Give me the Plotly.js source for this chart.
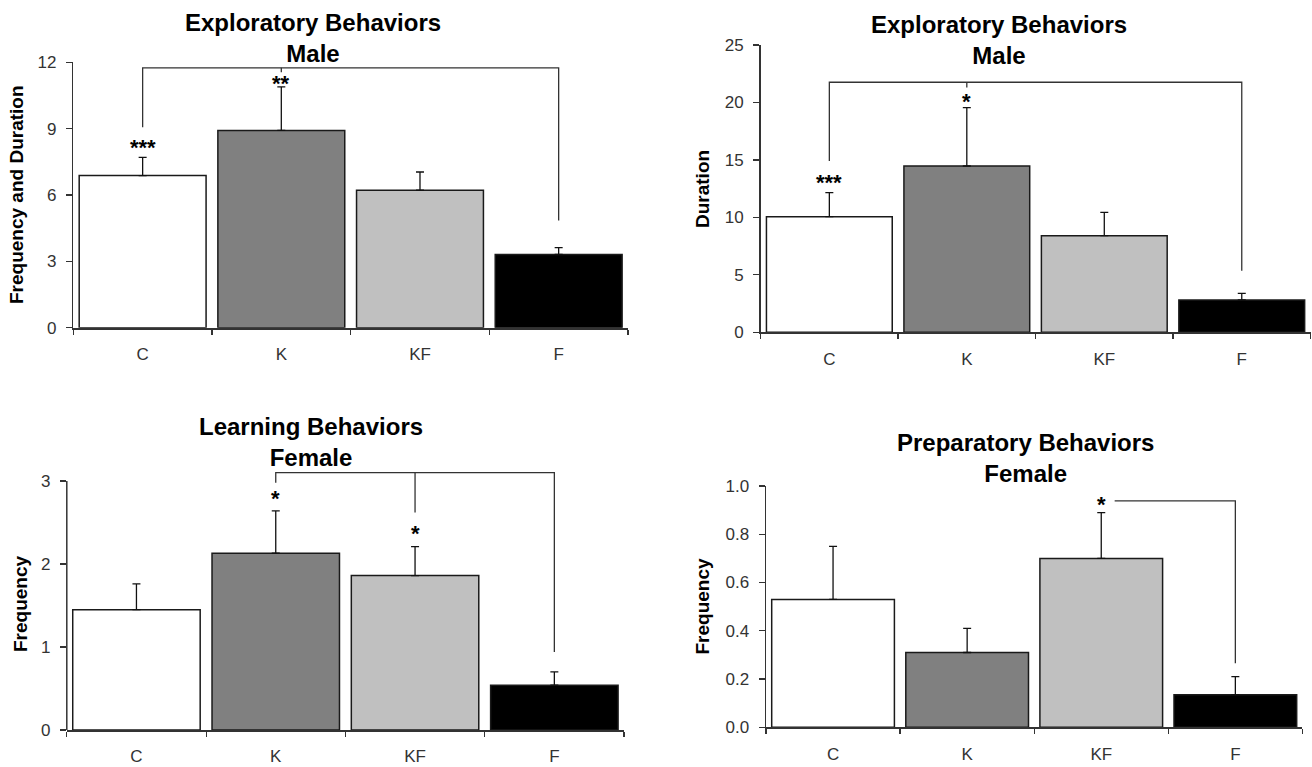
<!DOCTYPE html>
<html><head><meta charset="utf-8">
<script src="https://cdn.plot.ly/plotly-3.0.1.min.js"></script>
<style>html,body{margin:0;padding:0;background:#fff;} #chart{width:1312px;height:767px;}</style>
</head><body><div id="chart"></div>
<script>
// ---------- data ----------
const categories = ['C', 'K', 'KF', 'F'];
const barColors = ['#ffffff', '#808080', '#c0c0c0', '#000000'];

// Panel 1: Exploratory Behaviors, Male (frequency and duration)
const p1Title = 'Exploratory Behaviors<br>Male';
const p1YLabel = 'Frequency and Duration';
const p1Means = [6.88, 8.92, 6.22, 3.31];
const p1Sem = [0.82, 1.97, 0.82, 0.31];
const p1YTicks = [0, 3, 6, 9, 12];
const p1YTickText = ['0', '3', '6', '9', '12'];
const p1BracketX = [0, 0, 3, 3];
const p1BracketY = [9.06, 11.75, 11.75, 4.85];
const p1SubX = [1, 1];
const p1SubY = [11.75, 11.55];
const p1StarX = [0, 1];
const p1StarY = [8.35, 11.2];
const p1StarText = ['***', '**'];

// Panel 2: Exploratory Behaviors, Male (duration)
const p2Title = 'Exploratory Behaviors<br>Male';
const p2YLabel = 'Duration';
const p2Means = [10.06, 14.47, 8.41, 2.81];
const p2Sem = [2.09, 5.08, 2.03, 0.58];
const p2YTicks = [0, 5, 10, 15, 20, 25];
const p2YTickText = ['0', '5', '10', '15', '20', '25'];
const p2BracketX = [0, 0, 3, 3];
const p2BracketY = [14.9, 21.76, 21.76, 5.36];
const p2SubX = [1, 1];
const p2SubY = [21.76, 21.3];
const p2StarX = [0, 1];
const p2StarY = [13.4, 20.4];
const p2StarText = ['***', '*'];

// Panel 3: Learning Behaviors, Female
const p3Title = 'Learning Behaviors<br>Female';
const p3YLabel = 'Frequency';
const p3Means = [1.45, 2.13, 1.86, 0.54];
const p3Sem = [0.31, 0.51, 0.35, 0.16];
const p3YTicks = [0, 1, 2, 3];
const p3YTickText = ['0', '1', '2', '3'];
const p3BracketX = [1, 1, 3, 3];
const p3BracketY = [2.98, 3.10, 3.10, 0.94];
const p3SubX = [2, 2];
const p3SubY = [3.10, 2.62];
const p3StarX = [1, 2];
const p3StarY = [2.84, 2.42];
const p3StarText = ['*', '*'];

// Panel 4: Preparatory Behaviors, Female
const p4Title = 'Preparatory Behaviors<br>Female';
const p4YLabel = 'Frequency';
const p4Means = [0.53, 0.31, 0.70, 0.135];
const p4Sem = [0.22, 0.10, 0.19, 0.075];
const p4YTicks = [0, 0.2, 0.4, 0.6, 0.8, 1.0];
const p4YTickText = ['0.0', '0.2', '0.4', '0.6', '0.8', '1.0'];
const p4BracketX = [2.1, 3, 3];
const p4BracketY = [0.938, 0.938, 0.265];
const p4SubX = [];
const p4SubY = [];
const p4StarX = [2];
const p4StarY = [0.938];
const p4StarText = ['*'];

// ---------- layout helpers (pixel geometry of the 1312x767 figure) ----------
const W = 1312, H = 767;
const FONT = 'Liberation Sans, Arial, Helvetica, sans-serif';
const panels = [
  {title: p1Title, ylabel: p1YLabel, means: p1Means, sem: p1Sem, yt: p1YTicks, ytt: p1YTickText,
   bx: p1BracketX, by: p1BracketY, sx: p1SubX, sy: p1SubY, stx: p1StarX, sty: p1StarY, stt: p1StarText,
   xpx: [73.3, 628], ypx: [327.7, 62.3], yrange: [0, 12], showLine: true,
   titlePos: [313, 38], ylabPos: [16, 195]},
  {title: p2Title, ylabel: p2YLabel, means: p2Means, sem: p2Sem, yt: p2YTicks, ytt: p2YTickText,
   bx: p2BracketX, by: p2BracketY, sx: p2SubX, sy: p2SubY, stx: p2StarX, sty: p2StarY, stt: p2StarText,
   xpx: [760.6, 1310.5], ypx: [332.3, 45], yrange: [0, 25], showLine: true,
   titlePos: [999, 40], ylabPos: [703, 189]},
  {title: p3Title, ylabel: p3YLabel, means: p3Means, sem: p3Sem, yt: p3YTicks, ytt: p3YTickText,
   bx: p3BracketX, by: p3BracketY, sx: p3SubX, sy: p3SubY, stx: p3StarX, sty: p3StarY, stt: p3StarText,
   xpx: [66.8, 624], ypx: [730, 464.4], yrange: [0, 3.2], showLine: false,
   titlePos: [311, 441.7], ylabPos: [20, 604]},
  {title: p4Title, ylabel: p4YLabel, means: p4Means, sem: p4Sem, yt: p4YTicks, ytt: p4YTickText,
   bx: p4BracketX, by: p4BracketY, sx: p4SubX, sy: p4SubY, stx: p4StarX, sty: p4StarY, stt: p4StarText,
   xpx: [766, 1302.4], ypx: [727.3, 486], yrange: [0, 1], showLine: true,
   titlePos: [1025, 458.3], ylabPos: [701.5, 606]}
];

const xIdx = categories.map((_, i) => i);
const boundaries = [-0.5].concat(xIdx.map(i => i + 0.5));
const AXC = '#333333';

const traces = [];
const layout = {
  width: W, height: H,
  margin: {l: 0, r: 0, t: 0, b: 0, pad: 0},
  paper_bgcolor: '#ffffff', plot_bgcolor: 'rgba(0,0,0,0)',
  showlegend: false, bargap: 0.085,
  font: {family: FONT, color: '#333'},
  annotations: [], shapes: []
};

panels.forEach((p, k) => {
  const n = k + 1;
  const xa = n === 1 ? 'x' : 'x' + n;
  const ya = n === 1 ? 'y' : 'y' + n;
  const xKey = n === 1 ? 'xaxis' : 'xaxis' + n;
  const yKey = n === 1 ? 'yaxis' : 'yaxis' + n;

  traces.push({
    type: 'bar', x: xIdx, y: p.means, xaxis: xa, yaxis: ya,
    marker: {color: barColors, line: {color: '#1a1a1a', width: 1.5}},
    error_y: {type: 'data', symmetric: false, array: p.sem, arrayminus: p.sem.map(() => 0),
              color: '#111', thickness: 1.3, width: 4},
    hoverinfo: 'skip'
  });
  traces.push({
    type: 'scatter', mode: 'lines', x: p.bx, y: p.by, xaxis: xa, yaxis: ya,
    line: {color: '#333', width: 1.3}, hoverinfo: 'skip'
  });
  if (p.sx.length) {
    traces.push({
      type: 'scatter', mode: 'lines', x: p.sx, y: p.sy, xaxis: xa, yaxis: ya,
      line: {color: '#333', width: 1.3}, hoverinfo: 'skip'
    });
  }

  layout[xKey] = {
    domain: [p.xpx[0] / W, p.xpx[1] / W], anchor: ya,
    range: [-0.5, categories.length - 0.5], type: 'linear',
    tickmode: 'array', tickvals: xIdx, ticktext: categories,
    ticks: 'outside', ticklen: 10, tickcolor: 'rgba(0,0,0,0)',
    minor: {tickmode: 'array', tickvals: boundaries, ticks: 'outside', ticklen: 5, tickcolor: AXC, tickwidth: 1.2},
    showline: true, linecolor: AXC, linewidth: 2,
    showgrid: false, zeroline: false, fixedrange: true,
    tickfont: {family: FONT, size: 17, color: '#333'}
  };
  layout[yKey] = {
    domain: [1 - p.ypx[0] / H, 1 - p.ypx[1] / H], anchor: xa,
    range: p.yrange, type: 'linear',
    tickmode: 'array', tickvals: p.yt, ticktext: p.ytt,
    ticks: 'outside', ticklen: 6, tickcolor: AXC, tickwidth: 1.2,
    ticklabelstandoff: 6,
    showline: p.showLine, linecolor: AXC, linewidth: 1.5,
    showgrid: false, zeroline: false, fixedrange: true,
    tickfont: {family: FONT, size: 17, color: '#333'}
  };
  if (!p.showLine) {
    layout.shapes.push({
      type: 'line', xref: xa + ' domain', yref: ya, x0: 0, x1: 0,
      y0: p.yt[0], y1: p.yt[p.yt.length - 1],
      line: {color: AXC, width: 1.5}
    });
  }

  // panel title
  layout.annotations.push({
    xref: 'paper', yref: 'paper', x: p.titlePos[0] / W, y: 1 - p.titlePos[1] / H,
    xanchor: 'center', yanchor: 'middle', showarrow: false,
    text: '<b>' + p.title + '</b>', font: {family: FONT, size: 24, color: '#000'}
  });
  // y-axis title
  layout.annotations.push({
    xref: 'paper', yref: 'paper', x: p.ylabPos[0] / W, y: 1 - p.ylabPos[1] / H,
    xanchor: 'center', yanchor: 'middle', showarrow: false, textangle: -90,
    text: '<b>' + p.ylabel + '</b>', font: {family: FONT, size: 19, color: '#000'}
  });
  // significance stars
  p.stx.forEach((sx, j) => {
    layout.annotations.push({
      xref: xa, yref: ya, x: sx, y: p.sty[j], xanchor: 'center', yanchor: 'middle',
      showarrow: false, yshift: -4,
      text: '<b>' + p.stt[j] + '</b>', font: {family: FONT, size: 22, color: '#000'}
    });
  });
});

Plotly.newPlot('chart', traces, layout, {staticPlot: true, displayModeBar: false});
</script>
</body></html>
